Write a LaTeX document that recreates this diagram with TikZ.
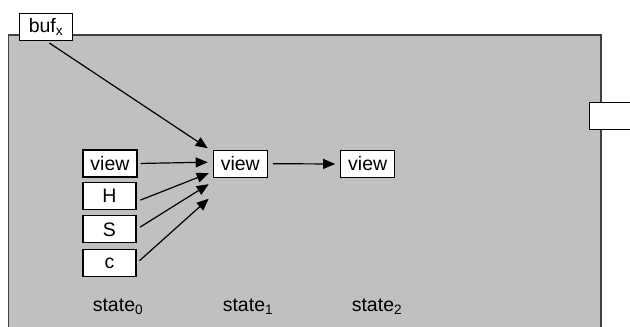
\documentclass[tikz,border=0pt]{standalone}
\usepackage{fontspec}
\setmainfont{Liberation Sans}
\usetikzlibrary{arrows.meta}
\definecolor{panelgray}{HTML}{C0C0C0}
\definecolor{edgegray}{HTML}{404040}
\begin{document}
\begin{tikzpicture}[x=1pt,y=-1pt,
  box/.style={draw=black,line width=1.2pt,fill=white,inner sep=0pt,
    minimum width=54pt,minimum height=27pt,font=\fontsize{19.5}{20}\selectfont},
  lbl/.style={inner sep=0pt,font=\fontsize{19.5}{20}\selectfont},
  arr/.style={line width=1.2pt,-{Triangle[length=12pt,width=10pt]}}]
\useasboundingbox (0,0) rectangle (630,327);
\clip (0,0) rectangle (630,327);
\fill[white] (0,0) rectangle (630,327);
% panel
\draw[edgegray,line width=1.2pt,fill=panelgray] (8.5,35) rectangle (601,340);
% right port box
\node[draw=black,line width=1.2pt,fill=white,inner sep=0pt,minimum width=60pt,minimum height=27pt,anchor=north west] (port) at (588.5,101.5) {};
% nodes
\node[box,minimum width=53pt] (buf) at (46,26.7) {buf\textsubscript{x}};
\node[box] (v0) at (110,163.5) {view};
\node[box,minimum width=53pt] (H) at (109.5,195.6) {H};
\node[box,minimum width=53pt] (S) at (109.5,229.3) {S};
\node[box,minimum width=53pt] (c) at (109.5,263.3) {c};
\node[box] (v1) at (240.3,163.7) {view};
\node[box] (v2) at (367.7,164) {view};
\node[lbl] (s0) at (118,306.5) {state\textsubscript{0}};
\node[lbl] (s1) at (248,306.5) {state\textsubscript{1}};
\node[lbl] (s2) at (377,306.5) {state\textsubscript{2}};
% connectors
\draw[arr,shorten <=4pt] (buf.south) -- ([xshift=-5pt,yshift=15.5pt]v1.west);
\draw[arr,shorten <=3pt] (v0.east) -- ([xshift=-5pt,yshift=1.5pt]v1.west);
\draw[arr,shorten <=4pt] ([yshift=-6pt]H.east) -- ([xshift=-4pt,yshift=-9.5pt]v1.west);
\draw[arr,shorten <=4pt] (S.east) -- ([xshift=-4pt,yshift=-20.5pt]v1.west);
\draw[arr,shorten <=4pt] (c.east) -- ([xshift=-4pt,yshift=-35pt]v1.west);
\draw[arr,shorten <=5pt,shorten >=5pt] (v1.east) -- (v2.west);
\end{tikzpicture}
\end{document}
